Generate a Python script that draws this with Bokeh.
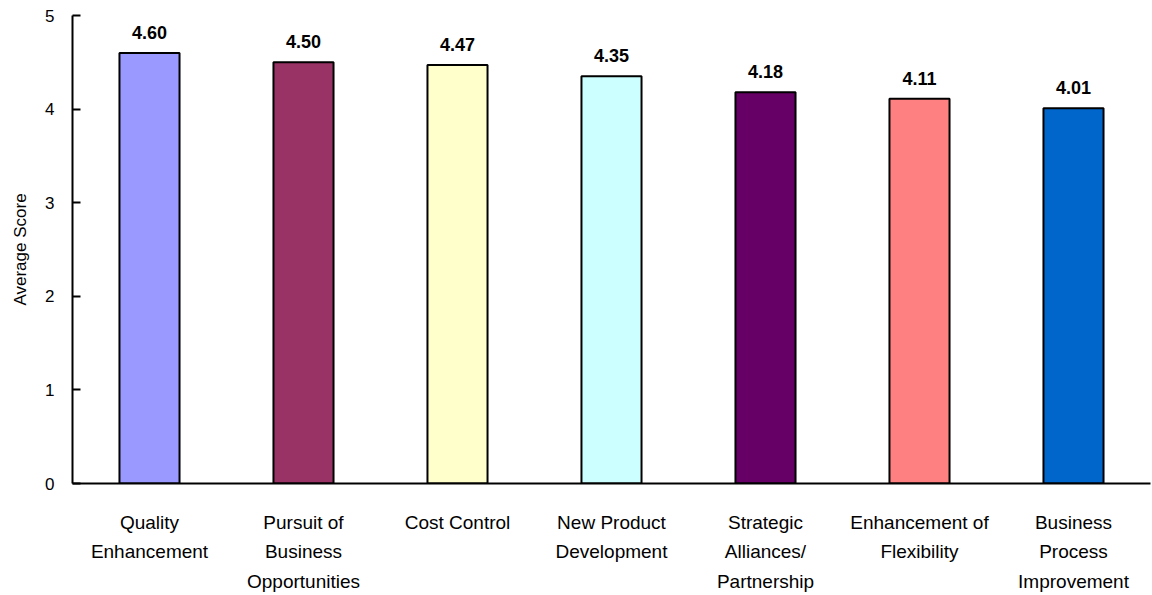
from bokeh.plotting import figure
from bokeh.models import ColumnDataSource, LabelSet, FactorRange
from bokeh.core.properties import value
from bokeh.embed import file_html
from bokeh.resources import INLINE

# Average score per business objective
categories = [
    "Quality\nEnhancement",
    "Pursuit of\nBusiness\nOpportunities",
    "Cost Control",
    "New Product\nDevelopment",
    "Strategic\nAlliances/\nPartnership",
    "Enhancement of\nFlexibility",
    "Business\nProcess\nImprovement",
]
scores = [4.60, 4.50, 4.47, 4.35, 4.18, 4.11, 4.01]
colors = ["#9999FF", "#993366", "#FFFFCC", "#CCFFFF", "#660066", "#FF8080", "#0066CC"]
y_ticks = [0, 1, 2, 3, 4, 5]

FONT = "Liberation Sans"

p = figure(
    x_range=FactorRange(*categories, range_padding=0),
    y_range=(0, 5),
    width=1152,
    height=595,
    output_backend="svg",
    toolbar_location=None,
    min_border_left=72,
    min_border_right=2,
    min_border_top=15,
    min_border_bottom=112,
)
p.outline_line_color = None
p.grid.grid_line_color = None
p.background_fill_color = "white"
p.border_fill_color = "white"

src = ColumnDataSource(dict(
    cat=categories,
    score=scores,
    color=colors,
    label=[f"{s:.2f}" for s in scores],
))
p.vbar(x="cat", top="score", width=0.39, bottom=0, source=src,
       fill_color="color", line_color="black", line_width=2)

# value labels above bars
p.add_layout(LabelSet(x="cat", y="score", text="label", source=src,
                      text_align="center", text_baseline="alphabetic",
                      y_offset=14, text_font=value(FONT), text_font_style="bold",
                      text_font_size="18px", text_color="black"))

# x axis: line and multi-line category labels, no ticks
xa = p.xaxis[0]
xa.major_tick_line_color = None
xa.minor_tick_line_color = None
xa.major_label_text_font = FONT
xa.major_label_text_font_size = "19px"
xa.major_label_text_line_height = 1.42
xa.major_label_text_color = "black"
xa.major_label_standoff = 22
xa.axis_line_color = "black"
xa.axis_line_width = 2

# y axis
ya = p.yaxis[0]
ya.ticker = y_ticks
ya.major_tick_in = 8
ya.major_tick_out = 0
ya.minor_tick_line_color = None
ya.axis_line_width = 2
ya.major_tick_line_width = 2
ya.major_label_standoff = 18
ya.major_label_text_font = FONT
ya.major_label_text_font_size = "17px"
ya.major_label_text_color = "black"
ya.axis_label = "Average Score"
ya.axis_label_text_font = FONT
ya.axis_label_text_font_size = "17px"
ya.axis_label_text_font_style = "normal"
ya.axis_label_text_color = "black"
ya.axis_label_standoff = 12

open("out.html", "w").write(file_html(p, INLINE))
